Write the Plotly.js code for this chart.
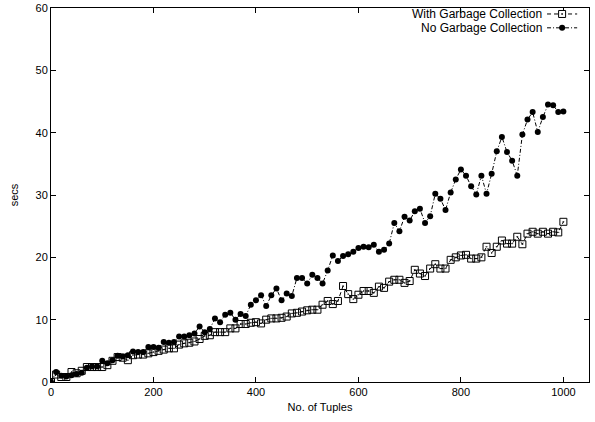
<!DOCTYPE html>
<html>
<head>
<meta charset="utf-8">
<script src="https://cdn.plot.ly/plotly-3.0.1.min.js"></script>
<style>html,body{margin:0;padding:0;background:#fff;}#chart{width:595px;height:422px;}</style>
</head>
<body>
<div id="chart"></div>
<script>
// x values: number of tuples
const tuples = [0,10,20,30,40,50,60,70,80,90,100,110,120,130,140,150,160,170,180,190,200,
  210,220,230,240,250,260,270,280,290,300,310,320,330,340,350,360,370,380,390,400,
  410,420,430,440,450,460,470,480,490,500,510,520,530,540,550,560,570,580,590,600,
  610,620,630,640,650,660,670,680,690,700,710,720,730,740,750,760,770,780,790,800,
  810,820,830,840,850,860,870,880,890,900,910,920,930,940,950,960,970,980,990,1000];

const withGC = [0,1.2,0.8,0.8,1.6,1.4,1.8,2.4,2.4,2.4,2.4,2.7,3.4,4.0,3.9,3.5,4.3,4.4,4.4,4.6,4.8,
  5.0,5.2,5.4,5.4,6.0,6.2,6.3,6.5,6.9,7.4,7.5,8.0,8.0,8.0,8.6,8.6,9.3,9.3,9.5,9.6,
  9.4,10.0,10.2,10.2,10.3,10.5,11.0,11.1,11.3,11.5,11.6,11.6,12.4,13.0,12.5,13.0,15.4,14.1,13.3,14.0,
  14.6,14.6,14.3,15.3,15.1,16.1,16.4,16.4,15.9,16.2,18.0,17.4,17.0,18.2,18.9,18.2,18.2,19.6,20.0,20.3,
  20.4,19.8,19.8,20.0,21.7,20.7,21.7,22.7,22.2,22.2,23.3,22.1,23.8,24.1,23.8,24.1,23.8,24.1,24.0,25.7];

const noGC = [0,1.6,1.0,0.9,1.1,1.3,1.5,2.3,2.5,2.5,3.4,3.0,3.5,4.2,4.1,4.3,4.9,4.8,4.8,5.6,5.6,
  5.5,6.4,6.3,6.4,7.3,7.3,7.5,7.8,8.9,8.0,8.5,10.2,9.6,10.8,11.1,10.0,10.9,10.6,12.4,13.1,
  13.9,12.2,13.9,15.0,13.1,14.2,13.8,16.7,16.7,15.8,17.2,16.7,15.8,17.9,20.3,19.4,20.2,20.5,20.9,21.5,
  21.7,21.6,22.0,20.9,21.2,22.2,25.5,24.2,26.5,25.9,27.4,27.8,25.5,26.6,30.2,29.4,27.6,30.4,32.5,34.1,
  33.1,31.4,30.1,33.1,30.2,33.4,37.0,39.3,36.9,35.5,33.1,39.7,42.1,43.3,40.1,42.5,44.5,44.4,43.3,43.4];

const seriesNames = ["With Garbage Collection", "No Garbage Collection"];
const xTicks = [0,200,400,600,800,1000];
const yTicks = [0,10,20,30,40,50,60];

const font = {family: "Liberation Sans, Arial, sans-serif", size: 11, color: "#000"};
const legendFont = {family: "Liberation Sans, Arial, sans-serif", size: 12, color: "#000"};

const traces = [
  {x: tuples, y: withGC, name: seriesNames[0], type: "scatter", mode: "lines+markers",
   line: {color: "#000", width: 1, dash: "4px,3px"},
   marker: {symbol: "square-open-dot", size: 7, color: "#000", line: {width: 1, color: "#000"}}},
  {x: tuples, y: noGC, name: seriesNames[1], type: "scatter", mode: "lines+markers",
   line: {color: "#000", width: 1, dash: "4px,2px,1px,2px"},
   marker: {symbol: "circle", size: 6, color: "#000"}}
];

// legend (gnuplot style: text on left, sample on right)
const lx0 = 0.922, lx1 = 0.978, lxm = 0.95, ltext = 0.914;
const rows = [0.984, 0.947];
const px = 1/538, py = 1/374;
const shapes = [];
const annotations = [];
rows.forEach((ry, i) => {
  annotations.push({xref: "paper", yref: "paper", x: ltext, y: ry, xanchor: "right", yanchor: "middle",
    text: seriesNames[i], showarrow: false, font: legendFont, borderpad: 0});
  shapes.push({type: "line", xref: "paper", yref: "paper", x0: lx0, x1: lx1, y0: ry, y1: ry,
    line: {color: "#000", width: 1, dash: i === 0 ? "4px,3px" : "4px,2px,1px,2px"}});
});
shapes.push({type: "rect", xref: "paper", yref: "paper", x0: lxm - 3.5*px, x1: lxm + 3.5*px,
  y0: rows[0] - 3.5*py, y1: rows[0] + 3.5*py, fillcolor: "#fff", line: {color: "#000", width: 1}});
shapes.push({type: "rect", xref: "paper", yref: "paper", x0: lxm - 0.8*px, x1: lxm + 0.8*px,
  y0: rows[0] - 0.8*py, y1: rows[0] + 0.8*py, fillcolor: "#000", line: {color: "#000", width: 0}});
shapes.push({type: "circle", xref: "paper", yref: "paper", x0: lxm - 3*px, x1: lxm + 3*px,
  y0: rows[1] - 3*py, y1: rows[1] + 3*py, fillcolor: "#000", line: {color: "#000", width: 0}});

const layout = {
  width: 595, height: 422,
  margin: {l: 51, r: 6, t: 8, b: 40},
  paper_bgcolor: "#fff", plot_bgcolor: "#fff",
  showlegend: false,
  font: font,
  xaxis: {range: [0, 1050], tickvals: xTicks, ticktext: xTicks.map(String),
    ticks: "inside", ticklen: 5, tickcolor: "#000", showline: true, linecolor: "#000", linewidth: 1,
    mirror: "ticks", showgrid: false, zeroline: false, tickfont: font,
    title: {text: "No. of Tuples", font: font, standoff: 6}},
  yaxis: {range: [0, 60], tickvals: yTicks, ticktext: yTicks.map(String),
    ticks: "inside", ticklen: 5, tickcolor: "#000", showline: true, linecolor: "#000", linewidth: 1,
    mirror: "ticks", showgrid: false, zeroline: false, tickfont: font,
    title: {text: "secs", font: font, standoff: 14}},
  shapes: shapes,
  annotations: annotations
};

Plotly.newPlot("chart", traces, layout, {displayModeBar: false, staticPlot: true});
</script>
</body>
</html>
